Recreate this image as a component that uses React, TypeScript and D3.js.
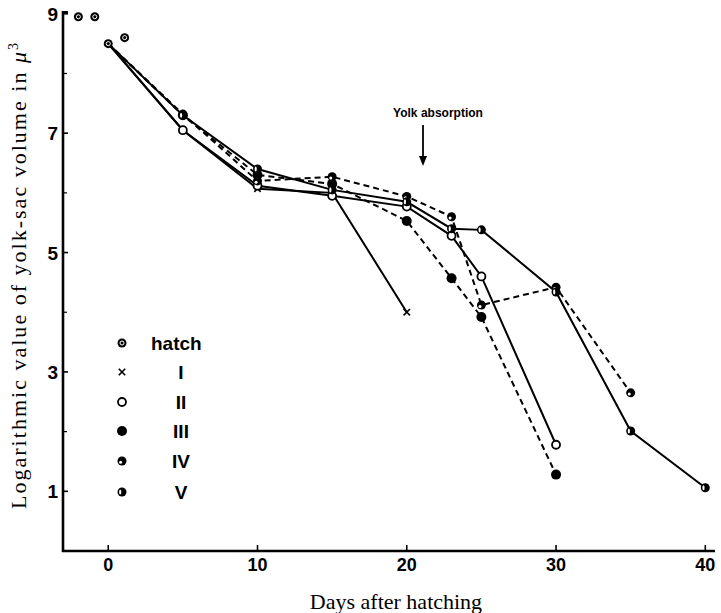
import React from "react";
import * as d3 from "d3";

const hatchDays = [-2, -0.9, 0, 1.1];
const hatchValues = [8.95, 8.95, 8.5, 8.6];

const daysI = [0, 5, 10, 15, 20];
const valuesI = [8.5, 7.05, 6.07, 6.0, 4.0];
const daysII = [0, 5, 10, 15, 20, 23, 25, 30];
const valuesII = [8.5, 7.05, 6.12, 5.95, 5.77, 5.28, 4.6, 1.78];
const daysIII = [0, 5, 10, 15, 20, 23, 25, 30];
const valuesIII = [8.5, 7.3, 6.3, 6.15, 5.53, 4.57, 3.92, 1.28];
const daysIV = [0, 5, 10, 15, 20, 23, 25, 30, 35];
const valuesIV = [8.5, 7.32, 6.2, 6.27, 5.94, 5.6, 4.12, 4.42, 2.65];
const daysV = [0, 5, 10, 15, 20, 23, 25, 30, 35, 40];
const valuesV = [8.5, 7.3, 6.4, 6.05, 5.85, 5.4, 5.38, 4.34, 2.01, 1.06];

const xTicks = [0, 10, 20, 30, 40];
const yMajorTicks = [1, 3, 5, 7, 9];
const yMinorTicks = [2, 4, 6, 8];
const legendLabels = ["hatch", "I", "II", "III", "IV", "V"];
const legendKinds = ["hatch", "x", "open", "filled", "iv", "v"];

const W = 721, H = 613;
const x = d3.scaleLinear().domain([-3.03, 40.65]).range([63, 715]);
const y = d3.scaleLinear().domain([0, 9.03]).range([551, 12]);

const sans = "'Liberation Sans', Arial, sans-serif";
const serif = "'Liberation Serif', 'DejaVu Serif', serif";

function Marker({ kind, cx, cy }: { kind: string; cx: number; cy: number }) {
  const r = 4.5;
  if (kind === "x") {
    const s = 3.2;
    return (
      <g stroke="#000" strokeWidth={1.6}>
        <line x1={cx - s} y1={cy - s} x2={cx + s} y2={cy + s} />
        <line x1={cx - s} y1={cy + s} x2={cx + s} y2={cy - s} />
      </g>
    );
  }
  if (kind === "open") {
    return <circle cx={cx} cy={cy} r={r - 0.5} fill="#fff" stroke="#000" strokeWidth={1.8} />;
  }
  if (kind === "filled") {
    return <circle cx={cx} cy={cy} r={r + 0.5} fill="#000" />;
  }
  if (kind === "iv") {
    return (
      <g>
        <circle cx={cx} cy={cy} r={r} fill="#000" />
        <circle cx={cx - 1.4} cy={cy + 1.3} r={1.5} fill="#fff" />
      </g>
    );
  }
  if (kind === "v") {
    return (
      <g>
        <circle cx={cx} cy={cy} r={r} fill="#000" />
        <ellipse cx={cx - 1.8} cy={cy} rx={1.1} ry={2.6} fill="#fff" />
      </g>
    );
  }
  // hatch
  return (
    <g>
      <circle cx={cx} cy={cy} r={r} fill="#000" />
      <circle cx={cx} cy={cy} r={2} fill="none" stroke="#fff" strokeWidth={1} />
      <circle cx={cx + 0.5} cy={cy - 0.3} r={0.8} fill="#000" />
    </g>
  );
}

type Series = { days: number[]; values: number[]; kind: string; dashed: boolean };
const series: Series[] = [
  { days: daysI, values: valuesI, kind: "x", dashed: false },
  { days: daysII, values: valuesII, kind: "open", dashed: false },
  { days: daysIII, values: valuesIII, kind: "filled", dashed: true },
  { days: daysIV, values: valuesIV, kind: "iv", dashed: true },
  { days: daysV, values: valuesV, kind: "v", dashed: false },
];

const legendY = [343, 372, 402, 431, 461, 492];

export default function App() {
  const line = d3
    .line<[number, number]>()
    .x((d) => x(d[0]))
    .y((d) => y(d[1]));
  const x0 = x.range()[0];
  const yb = y.range()[0];
  return (
    <svg width={W} height={H} style={{ position: "absolute", left: 0, top: 0, background: "#fff" }}>
      <rect width={W} height={H} fill="#fff" />
      {/* axes */}
      <line x1={x0} y1={y.range()[1] - 1} x2={x0} y2={yb + 1} stroke="#000" strokeWidth={2.6} />
      <line x1={x0 - 1} y1={yb} x2={x.range()[1]} y2={yb} stroke="#000" strokeWidth={2.6} />
      <line x1={x0} y1={y(9.03)} x2={x0 + 5} y2={y(9.03)} stroke="#000" strokeWidth={2} />
      {yMajorTicks.map((t) => (
        <g key={"ym" + t}>
          <line x1={x0} x2={x0 + 5} y1={y(t)} y2={y(t)} stroke="#000" strokeWidth={1.6} />
          <text x={58} y={y(t) + 7} textAnchor="end" fontFamily={sans} fontWeight="bold" fontSize={19}>
            {t}
          </text>
        </g>
      ))}
      {yMinorTicks.map((t) => (
        <line key={"yn" + t} x1={x0} x2={x0 + 4} y1={y(t)} y2={y(t)} stroke="#000" strokeWidth={1.2} />
      ))}
      {xTicks.map((t) => (
        <g key={"x" + t}>
          <line x1={x(t)} x2={x(t)} y1={yb} y2={yb - 6} stroke="#000" strokeWidth={1.6} />
          <text x={x(t)} y={571} textAnchor="middle" fontFamily={sans} fontWeight="bold" fontSize={18}>
            {t}
          </text>
        </g>
      ))}
      <text x={396} y={609} textAnchor="middle" fontFamily={serif} fontSize={22}>
        Days after hatching
      </text>
      <text
        transform={`translate(26,276) rotate(-90)`}
        textAnchor="middle"
        fontFamily={serif}
        fontSize={22}
        textLength={466}
        lengthAdjust="spacing"
      >
        Logarithmic value of yolk-sac volume in <tspan fontStyle="italic">μ</tspan>
        <tspan dy={-8} fontSize={14}>3</tspan>
      </text>

      {/* annotation */}
      <text x={438} y={117} textAnchor="middle" fontFamily={sans} fontWeight="bold" fontSize={12}>
        Yolk absorption
      </text>
      <line x1={423} x2={423} y1={125} y2={160} stroke="#000" strokeWidth={1.8} />
      <path d="M419,156 L423,166 L427,156 Z" fill="#000" />

      {/* series lines */}
      {series.map((s, i) => (
        <path
          key={"l" + i}
          d={line(s.days.map((d, j) => [d, s.values[j]] as [number, number])) || ""}
          fill="none"
          stroke="#000"
          strokeWidth={2}
          strokeDasharray={s.dashed ? "6,4" : undefined}
        />
      ))}
      {series.map((s, i) => (
        <g key={"m" + i}>
          {s.days.map((d, j) =>
            d === 0 ? null : <Marker key={j} kind={s.kind} cx={x(d)} cy={y(s.values[j])} />
          )}
        </g>
      ))}
      {hatchDays.map((d, j) => (
        <Marker key={"h" + j} kind="hatch" cx={x(d)} cy={y(hatchValues[j])} />
      ))}

      {/* legend */}
      {legendLabels.map((lab, i) => (
        <g key={"lg" + i}>
          <Marker kind={legendKinds[i]} cx={122} cy={legendY[i]} />
          <text
            x={i === 0 ? 151 : 181}
            y={legendY[i] + 7}
            textAnchor={i === 0 ? "start" : "middle"}
            fontFamily={sans}
            fontWeight="bold"
            fontSize={19}
          >
            {lab}
          </text>
        </g>
      ))}
    </svg>
  );
}
